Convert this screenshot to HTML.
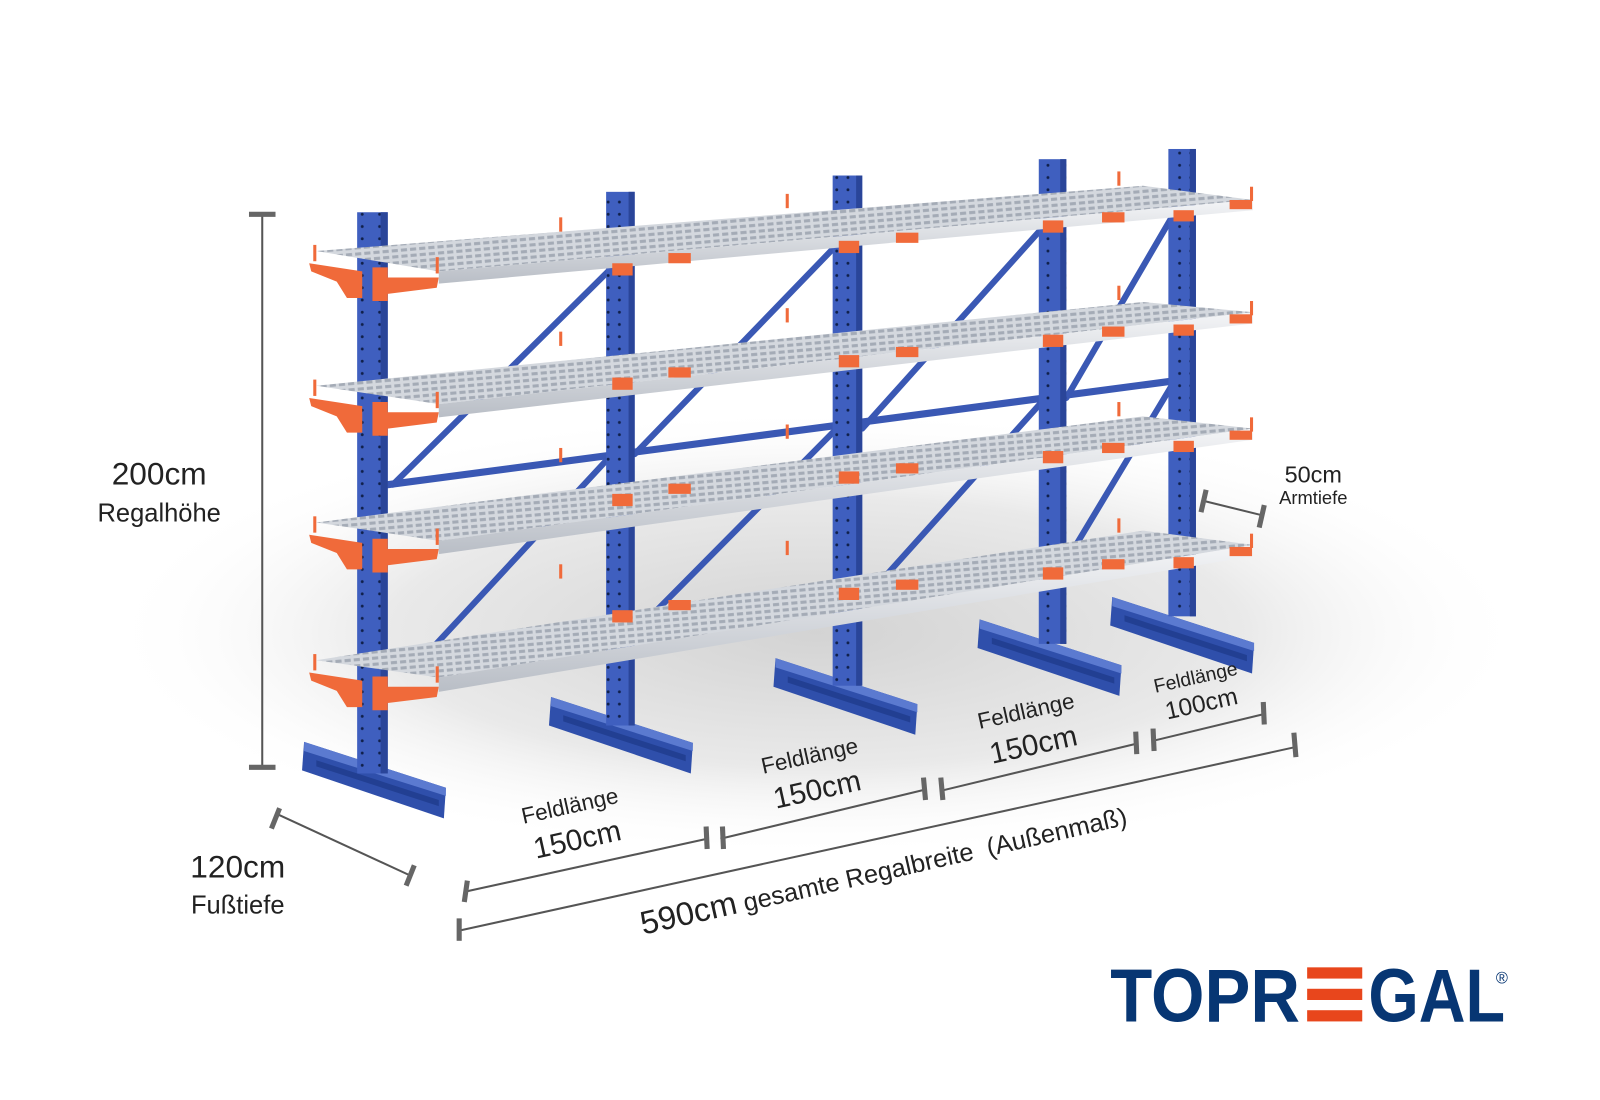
<!DOCTYPE html>
<html><head><meta charset="utf-8"><style>
html,body{margin:0;padding:0;background:#fff;}
svg{display:block;}
text{font-family:"Liberation Sans",sans-serif;fill:#222;}
</style></head><body>
<svg width="1600" height="1100" viewBox="0 0 1568 1078" xmlns="http://www.w3.org/2000/svg">
<defs>
<radialGradient id="sh" cx="0.5" cy="0.5" r="0.5">
<stop offset="0" stop-color="#c8c8c8"/><stop offset="0.6" stop-color="#e4e4e4"/><stop offset="1" stop-color="#fff" stop-opacity="0"/>
</radialGradient>
<pattern id="grid" width="9" height="6" patternUnits="userSpaceOnUse" patternTransform="rotate(-5)">
<rect width="9" height="6" fill="#d4d8de"/><rect x="1" y="1" width="6" height="3" fill="#a4abb6"/>
</pattern>
<pattern id="holes" width="28" height="12" patternUnits="userSpaceOnUse">
<rect width="28" height="12" fill="#3f5fbf"/><circle cx="8" cy="6" r="1.4" fill="#10204a"/><circle cx="19" cy="6" r="1.4" fill="#10204a"/>
</pattern>
<linearGradient id="lip" x1="0" y1="0" x2="0" y2="1"><stop offset="0" stop-color="#f4f5f7"/><stop offset="1" stop-color="#b9bec6"/></linearGradient>
</defs>
<ellipse cx="800" cy="620" rx="700" ry="220" fill="url(#sh)" opacity="0.8"/>

<g id="base">
<polygon points="298,727 437,772 435,802 296,755" fill="#2f4fab"/>
<polygon points="298,727 437,772 437,780 298,736" fill="#5b7ad0"/>
<polygon points="310,745 430,784 430,790 310,751" fill="#223f92"/>
</g>
<use href="#base" x="242" y="-44"/>
<use href="#base" x="462" y="-82"/>
<use href="#base" x="662" y="-120"/>
<use href="#base" x="792" y="-142"/>

<g stroke="#3a58b4" stroke-width="6" stroke-linecap="round">
<line x1="385" y1="475" x2="600" y2="262"/>
<line x1="410" y1="650" x2="600" y2="445"/>
<line x1="622" y1="445" x2="820" y2="240"/>
<line x1="622" y1="620" x2="820" y2="420"/>
<line x1="845" y1="420" x2="1020" y2="225"/>
<line x1="845" y1="590" x2="1020" y2="395"/>
<line x1="1045" y1="390" x2="1150" y2="210"/>
<line x1="1045" y1="550" x2="1150" y2="375"/>
<line x1="380" y1="475" x2="1160" y2="372" stroke-width="7"/>
</g>
<g fill="#2a4aa8"><circle cx="603" cy="446" r="8"/><circle cx="826" cy="414" r="8"/><circle cx="1030" cy="388" r="8"/><circle cx="1157" cy="372" r="8"/></g>

<g>
<rect x="1145" y="146" width="27" height="458" fill="url(#holes)"/><rect x="1166" y="146" width="6" height="458" fill="#2a4599"/>
<rect x="1018" y="156" width="27" height="475" fill="url(#holes)"/><rect x="1039" y="156" width="6" height="475" fill="#2a4599"/>
<rect x="816" y="172" width="29" height="500" fill="url(#holes)"/><rect x="839" y="172" width="6" height="500" fill="#2a4599"/>
<rect x="594" y="188" width="28" height="523" fill="url(#holes)"/><rect x="616" y="188" width="6" height="523" fill="#2a4599"/>
<rect x="350" y="208" width="30" height="550" fill="url(#holes)"/><rect x="373" y="208" width="7" height="550" fill="#2a4599"/>
</g>

<g id="shelves">
<polygon points="310,246 1120,182 1228,196 430,266" fill="url(#grid)"/>
<polygon points="430,266 1228,196 1228,206 430,278" fill="url(#lip)"/>
<polygon points="310,378 1120,296 1228,306 430,396" fill="url(#grid)"/>
<polygon points="430,396 1228,306 1228,317 430,409" fill="url(#lip)"/>
<polygon points="310,512 1120,408 1228,420 430,530" fill="url(#grid)"/>
<polygon points="430,530 1228,420 1228,431 430,543" fill="url(#lip)"/>
<polygon points="310,647 1120,520 1228,534 430,664" fill="url(#grid)"/>
<polygon points="430,664 1228,534 1228,545 430,678" fill="url(#lip)"/>
</g>

<g fill="#f06a3a">
<g id="armL">
<polygon points="303,258 355,266 355,292 340,292 330,276 305,266"/>
<polygon points="365,262 380,262 380,272 430,272 428,282 380,288 380,295 365,295"/>
<rect x="307" y="240" width="3" height="16"/><rect x="427" y="252" width="3" height="16"/>
</g>
<use href="#armL" y="132"/><use href="#armL" y="266"/><use href="#armL" y="401"/>
<g id="armR">
<rect x="655" y="248" width="22" height="10"/><rect x="878" y="228" width="22" height="10"/><rect x="1080" y="208" width="22" height="10"/><rect x="1205" y="196" width="22" height="9"/>
<rect x="600" y="258" width="20" height="12"/><rect x="822" y="236" width="20" height="12"/><rect x="1022" y="216" width="20" height="12"/><rect x="1150" y="206" width="20" height="11"/>
<rect x="548" y="213" width="3" height="14"/><rect x="770" y="190" width="3" height="14"/><rect x="1095" y="168" width="3" height="14"/><rect x="1225" y="183" width="3" height="14"/>
</g>
<use href="#armR" x="0" y="112"/><use href="#armR" x="0" y="226"/><use href="#armR" x="0" y="340"/>
</g>

<g stroke="#555" stroke-width="2" fill="none">
<line x1="257" y1="210" x2="257" y2="752"/>
<line x1="270" y1="797" x2="402" y2="858"/>
<line x1="455" y1="874" x2="693" y2="822"/>
<line x1="706" y1="822" x2="906" y2="774"/>
<line x1="922" y1="775" x2="1113" y2="729"/>
<line x1="1130" y1="726" x2="1238" y2="700"/>
<line x1="450" y1="912" x2="1270" y2="732"/>
<line x1="1180" y1="491" x2="1237" y2="505"/>
</g>
<g stroke="#666" stroke-width="5">
<line x1="244" y1="210" x2="270" y2="210"/><line x1="244" y1="752" x2="270" y2="752"/>
<line x1="274" y1="792" x2="266" y2="812"/><line x1="406" y1="848" x2="398" y2="868"/>
<line x1="458" y1="863" x2="455" y2="884"/><line x1="692" y1="810" x2="693" y2="832"/><line x1="708" y1="810" x2="709" y2="832"/>
<line x1="905" y1="762" x2="907" y2="784"/><line x1="922" y1="762" x2="924" y2="784"/><line x1="1113" y1="717" x2="1114" y2="739"/>
<line x1="1130" y1="714" x2="1131" y2="736"/><line x1="1238" y1="688" x2="1239" y2="710"/>
<line x1="450" y1="900" x2="450" y2="922"/><line x1="1268" y1="718" x2="1270" y2="742"/>
<line x1="1182" y1="480" x2="1177" y2="502"/><line x1="1239" y1="495" x2="1234" y2="517"/>
</g>

<text x="156" y="475" font-size="31" text-anchor="middle">200cm</text>
<text x="156" y="511" font-size="25" text-anchor="middle">Regalhöhe</text>
<text x="233" y="860" font-size="31" text-anchor="middle">120cm</text>
<text x="233" y="895" font-size="25" text-anchor="middle">Fußtiefe</text>
<text x="1287" y="473" font-size="23" text-anchor="middle">50cm</text>
<text x="1287" y="494" font-size="18" text-anchor="middle">Armtiefe</text>
<g transform="translate(560,797) rotate(-12.5)"><text font-size="22" text-anchor="middle">Feldlänge</text><text y="36" font-size="29" text-anchor="middle">150cm</text></g>
<g transform="translate(795,748) rotate(-12.5)"><text font-size="22" text-anchor="middle">Feldlänge</text><text y="36" font-size="29" text-anchor="middle">150cm</text></g>
<g transform="translate(1007,704) rotate(-12.5)"><text font-size="22" text-anchor="middle">Feldlänge</text><text y="36" font-size="29" text-anchor="middle">150cm</text></g>
<g transform="translate(1173,670) rotate(-12.5)"><text font-size="19" text-anchor="middle">Feldlänge</text><text y="28" font-size="24" text-anchor="middle">100cm</text></g>
<g transform="translate(868,862) rotate(-12.8)"><text font-size="25" text-anchor="middle" xml:space="preserve"><tspan font-size="32">590cm</tspan> gesamte Regalbreite  (Außenmaß)</text></g>

<g>
<text x="1088" y="1001" font-size="74" font-weight="bold" style="fill:#073673" textLength="186" lengthAdjust="spacingAndGlyphs">TOPR</text>
<rect x="1281" y="948" width="54" height="11" fill="#e8461c"/>
<rect x="1281" y="969" width="54" height="11" fill="#e8461c"/>
<rect x="1281" y="990" width="54" height="11" fill="#e8461c"/>
<text x="1341" y="1001" font-size="74" font-weight="bold" style="fill:#073673" textLength="134" lengthAdjust="spacingAndGlyphs">GAL</text>
<text x="1466" y="964" font-size="16" style="fill:#073673">®</text>
</g>
</svg>
</body></html>
